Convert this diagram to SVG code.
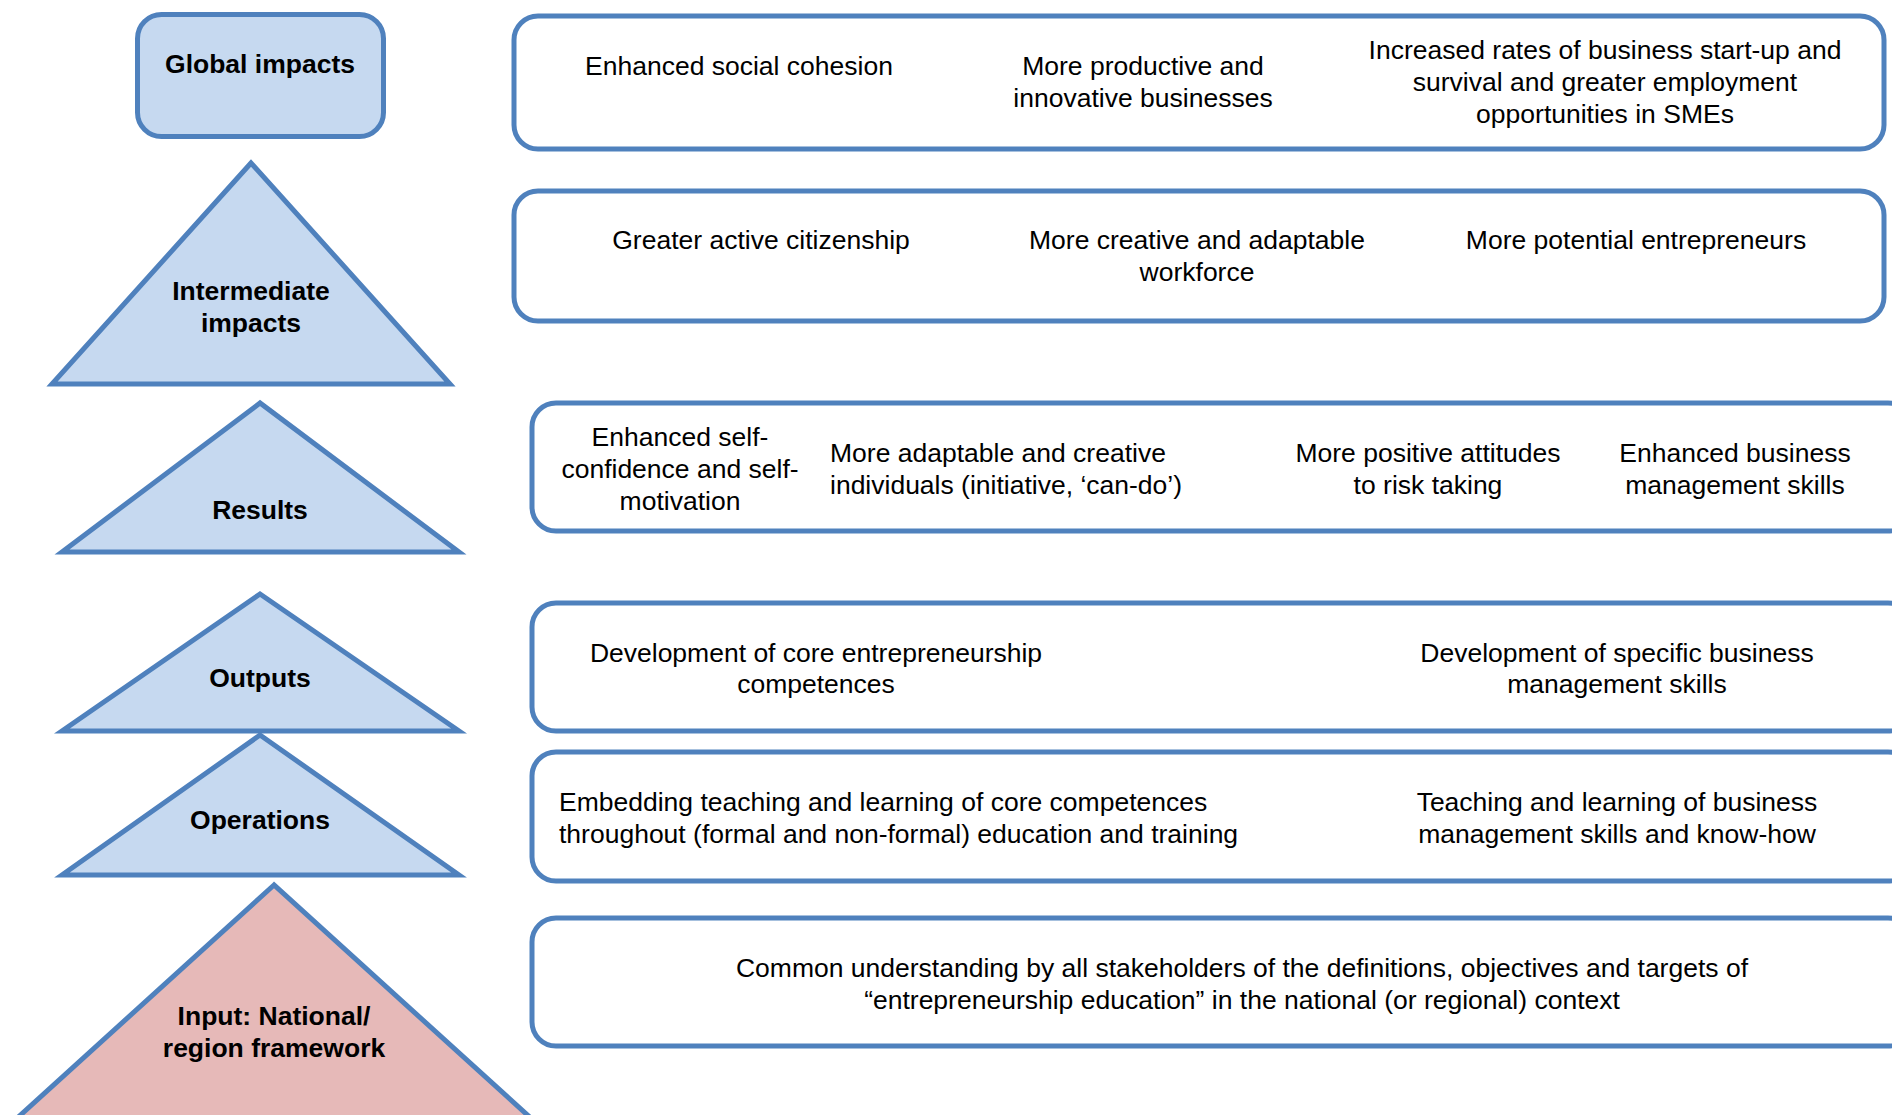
<svg xmlns="http://www.w3.org/2000/svg" width="1892" height="1115" viewBox="0 0 1892 1115">
<style>
.bg{fill:#FFFFFF}
.lvl{fill:#C6D9F0;stroke:#4F81BD;stroke-width:5;stroke-linejoin:miter}
.inp{fill:#E6B9B8;stroke:#4F81BD;stroke-width:5;stroke-linejoin:miter}
.box{fill:#FFFFFF;stroke:#4F81BD;stroke-width:5}
.lb{font-family:"Liberation Sans",Arial,sans-serif;font-weight:bold;font-size:26.5px;fill:#000;text-anchor:middle}
.tx{font-family:"Liberation Sans",Arial,sans-serif;font-size:26.5px;fill:#000;text-anchor:middle}
.tl{font-family:"Liberation Sans",Arial,sans-serif;font-size:26.5px;fill:#000;text-anchor:start}
</style>
<rect class="bg" x="0" y="0" width="1892" height="1115"/>

<g id="global-impacts">
<rect class="lvl" x="137.5" y="14.5" width="246" height="122" rx="24" ry="24"/>
<text class="lb" x="260" y="73">Global impacts</text>
</g>

<g id="intermediate-impacts">
<polygon class="lvl" points="251,163 52,384 450,384"/>
<text class="lb" x="251" y="300">Intermediate</text>
<text class="lb" x="251" y="332">impacts</text>
</g>

<g id="results">
<polygon class="lvl" points="260,403 62,552 459,552"/>
<text class="lb" x="260" y="519">Results</text>
</g>

<g id="outputs">
<polygon class="lvl" points="260,594 62,731 459,731"/>
<text class="lb" x="260" y="687">Outputs</text>
</g>

<g id="operations">
<polygon class="lvl" points="260,735 62,875 459,875"/>
<text class="lb" x="260" y="829">Operations</text>
</g>

<g id="input">
<polygon class="inp" points="274,885 -7,1140 555,1140"/>
<text class="lb" x="274" y="1025">Input: National/</text>
<text class="lb" x="274" y="1057">region framework</text>
</g>

<g id="box-global">
<rect class="box" x="514" y="16" width="1370" height="133" rx="24" ry="24"/>
<text class="tx" x="739" y="75">Enhanced social cohesion</text>
<text class="tx" x="1143" y="75">More productive and</text>
<text class="tx" x="1143" y="107">innovative businesses</text>
<text class="tx" x="1605" y="59">Increased rates of business start-up and</text>
<text class="tx" x="1605" y="91">survival and greater employment</text>
<text class="tx" x="1605" y="123">opportunities in SMEs</text>
</g>

<g id="box-intermediate">
<rect class="box" x="514" y="191" width="1370" height="130" rx="24" ry="24"/>
<text class="tx" x="761" y="249">Greater active citizenship</text>
<text class="tx" x="1197" y="249">More creative and adaptable</text>
<text class="tx" x="1197" y="281">workforce</text>
<text class="tx" x="1636" y="249">More potential entrepreneurs</text>
</g>

<g id="box-results">
<rect class="box" x="532" y="403" width="1380" height="128" rx="24" ry="24"/>
<text class="tx" x="680" y="446">Enhanced self-</text>
<text class="tx" x="680" y="478">confidence and self-</text>
<text class="tx" x="680" y="510">motivation</text>
<text class="tl" x="830" y="462">More adaptable and creative</text>
<text class="tl" x="830" y="494">individuals (initiative, ‘can-do’)</text>
<text class="tx" x="1428" y="462">More positive attitudes</text>
<text class="tx" x="1428" y="494">to risk taking</text>
<text class="tx" x="1735" y="462">Enhanced business</text>
<text class="tx" x="1735" y="494">management skills</text>
</g>

<g id="box-outputs">
<rect class="box" x="532" y="603" width="1380" height="128" rx="24" ry="24"/>
<text class="tx" x="816" y="662">Development of core entrepreneurship</text>
<text class="tx" x="816" y="693">competences</text>
<text class="tx" x="1617" y="662">Development of specific business</text>
<text class="tx" x="1617" y="693">management skills</text>
</g>

<g id="box-operations">
<rect class="box" x="532" y="752" width="1380" height="129" rx="24" ry="24"/>
<text class="tl" x="559" y="811">Embedding teaching and learning of core competences</text>
<text class="tl" x="559" y="843">throughout (formal and non-formal) education and training</text>
<text class="tx" x="1617" y="811">Teaching and learning of business</text>
<text class="tx" x="1617" y="843">management skills and know-how</text>
</g>

<g id="box-input">
<rect class="box" x="532" y="918" width="1380" height="128" rx="24" ry="24"/>
<text class="tx" x="1242" y="977">Common understanding by all stakeholders of the definitions, objectives and targets of</text>
<text class="tx" x="1242" y="1009">“entrepreneurship education” in the national (or regional) context</text>
</g>

<g id="connectors"/>
</svg>
